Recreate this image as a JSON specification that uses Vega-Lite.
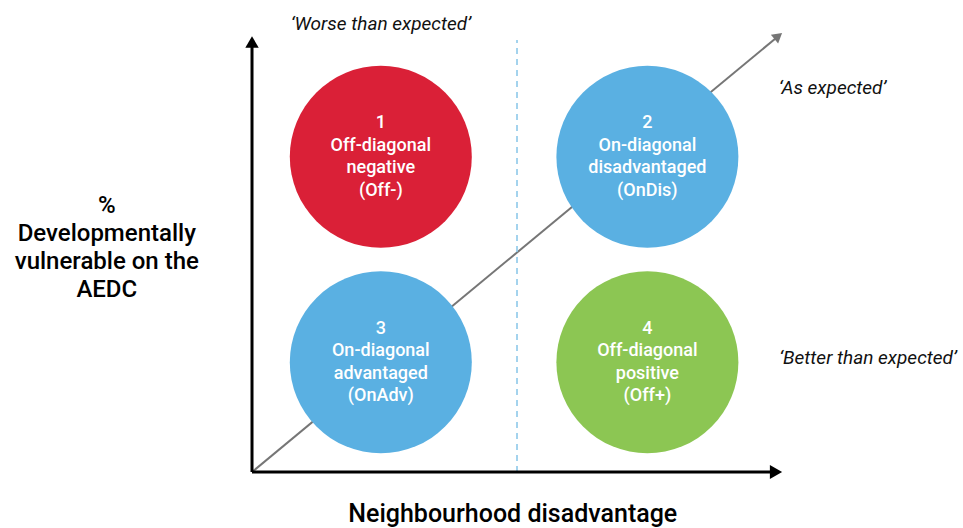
{
  "$schema": "https://vega.github.io/schema/vega-lite/v6.json",
  "width": 963,
  "height": 528,
  "autosize": "none",
  "padding": 0,
  "background": "white",
  "config": {"view": {"stroke": null}},
  "encoding": {
    "x": {"field": "x", "type": "quantitative", "scale": {"domain": [-47.55, 134.15], "nice": false, "zero": false}, "axis": null},
    "y": {"field": "y", "type": "quantitative", "scale": {"domain": [-12.76, 107.52], "nice": false, "zero": false}, "axis": null}
  },
  "layer": [
    {
      "data": {"values": [{"x": 0, "y": 0, "x2": 99, "y2": 99}]},
      "mark": {"type": "rule", "color": "#767676", "strokeWidth": 2},
      "encoding": {"x2": {"field": "x2"}, "y2": {"field": "y2"}}
    },
    {
      "data": {"values": [{"x": 99.3, "y": 99.3}]},
      "mark": {"type": "point", "shape": "triangle-up", "filled": true, "color": "#767676", "opacity": 1, "size": 130, "angle": 50.4}
    },
    {
      "data": {"values": [{"x": 50, "y": 0, "x2": 50, "y2": 98.4}]},
      "mark": {"type": "rule", "color": "#86c5e8", "strokeWidth": 1.5, "strokeDash": [6, 5]},
      "encoding": {"x2": {"field": "x2"}, "y2": {"field": "y2"}}
    },
    {
      "data": {"values": [{"x": 0, "y": 0, "x2": 98.5, "y2": 0}, {"x": 0, "y": 0, "x2": 0, "y2": 97.5}]},
      "mark": {"type": "rule", "color": "#000000", "strokeWidth": 3},
      "encoding": {"x2": {"field": "x2"}, "y2": {"field": "y2"}}
    },
    {
      "data": {"values": [{"x": 98.87, "y": 0}]},
      "mark": {"type": "point", "shape": "triangle-right", "filled": true, "color": "#000000", "opacity": 1, "size": 200}
    },
    {
      "data": {"values": [{"x": 0, "y": 97.95}]},
      "mark": {"type": "point", "shape": "triangle-up", "filled": true, "color": "#000000", "opacity": 1, "size": 180}
    },
    {
      "data": {"values": [
        {"x": 24.3, "y": 71.8, "group": "Off-diagonal negative"},
        {"x": 74.6, "y": 71.8, "group": "On-diagonal disadvantaged"},
        {"x": 24.3, "y": 25.0, "group": "On-diagonal advantaged"},
        {"x": 74.6, "y": 25.0, "group": "Off-diagonal positive"}
      ]},
      "mark": {"type": "point", "shape": "circle", "filled": true, "opacity": 1, "size": 33124},
      "encoding": {
        "color": {"field": "group", "type": "nominal", "legend": null,
          "scale": {"domain": ["Off-diagonal negative", "On-diagonal disadvantaged", "On-diagonal advantaged", "Off-diagonal positive"],
                    "range": ["#DA2037", "#5AB0E2", "#5AB0E2", "#8CC653"]}}
      }
    },
    {
      "data": {"values": [
        {"x": 24.3, "y": 71.8, "label": "1\nOff-diagonal\nnegative\n(Off-)"},
        {"x": 74.6, "y": 71.8, "label": "2\nOn-diagonal\ndisadvantaged\n(OnDis)"},
        {"x": 24.3, "y": 25.0, "label": "3\nOn-diagonal\nadvantaged\n(OnAdv)"},
        {"x": 74.6, "y": 25.0, "label": "4\nOff-diagonal\npositive\n(Off+)"}
      ]},
      "mark": {"type": "text", "lineBreak": "\n", "lineHeight": 22.5, "dy": -33.5, "font": "Roboto", "fontSize": 18, "fontWeight": 500, "color": "#ffffff", "align": "center", "baseline": "middle"},
      "encoding": {"text": {"field": "label"}}
    },
    {
      "data": {"values": [{"x": 24.3, "y": 102.0, "label": "‘Worse than expected’"}]},
      "mark": {"type": "text", "font": "Roboto", "fontSize": 19, "fontStyle": "italic", "color": "#111111", "align": "center", "baseline": "middle"},
      "encoding": {"text": {"field": "label"}}
    },
    {
      "data": {"values": [
        {"x": 99.4, "y": 87.5, "label": "‘As expected’"},
        {"x": 99.5, "y": 26.0, "label": "‘Better than expected’"}
      ]},
      "mark": {"type": "text", "font": "Roboto", "fontSize": 19, "fontStyle": "italic", "color": "#111111", "align": "left", "baseline": "middle"},
      "encoding": {"text": {"field": "label"}}
    },
    {
      "data": {"values": [{"x": -27.4, "y": 51.1, "label": "%\nDevelopmentally\nvulnerable on the\nAEDC"}]},
      "mark": {"type": "text", "lineBreak": "\n", "lineHeight": 28, "dy": -42, "font": "Roboto", "fontSize": 24, "fontWeight": 500, "color": "#000000", "align": "center", "baseline": "middle"},
      "encoding": {"text": {"field": "label"}}
    },
    {
      "data": {"values": [{"x": 49.2, "y": -9.6, "label": "Neighbourhood disadvantage"}]},
      "mark": {"type": "text", "font": "Roboto", "fontSize": 25, "fontWeight": 500, "color": "#000000", "align": "center", "baseline": "middle"},
      "encoding": {"text": {"field": "label"}}
    }
  ]
}
